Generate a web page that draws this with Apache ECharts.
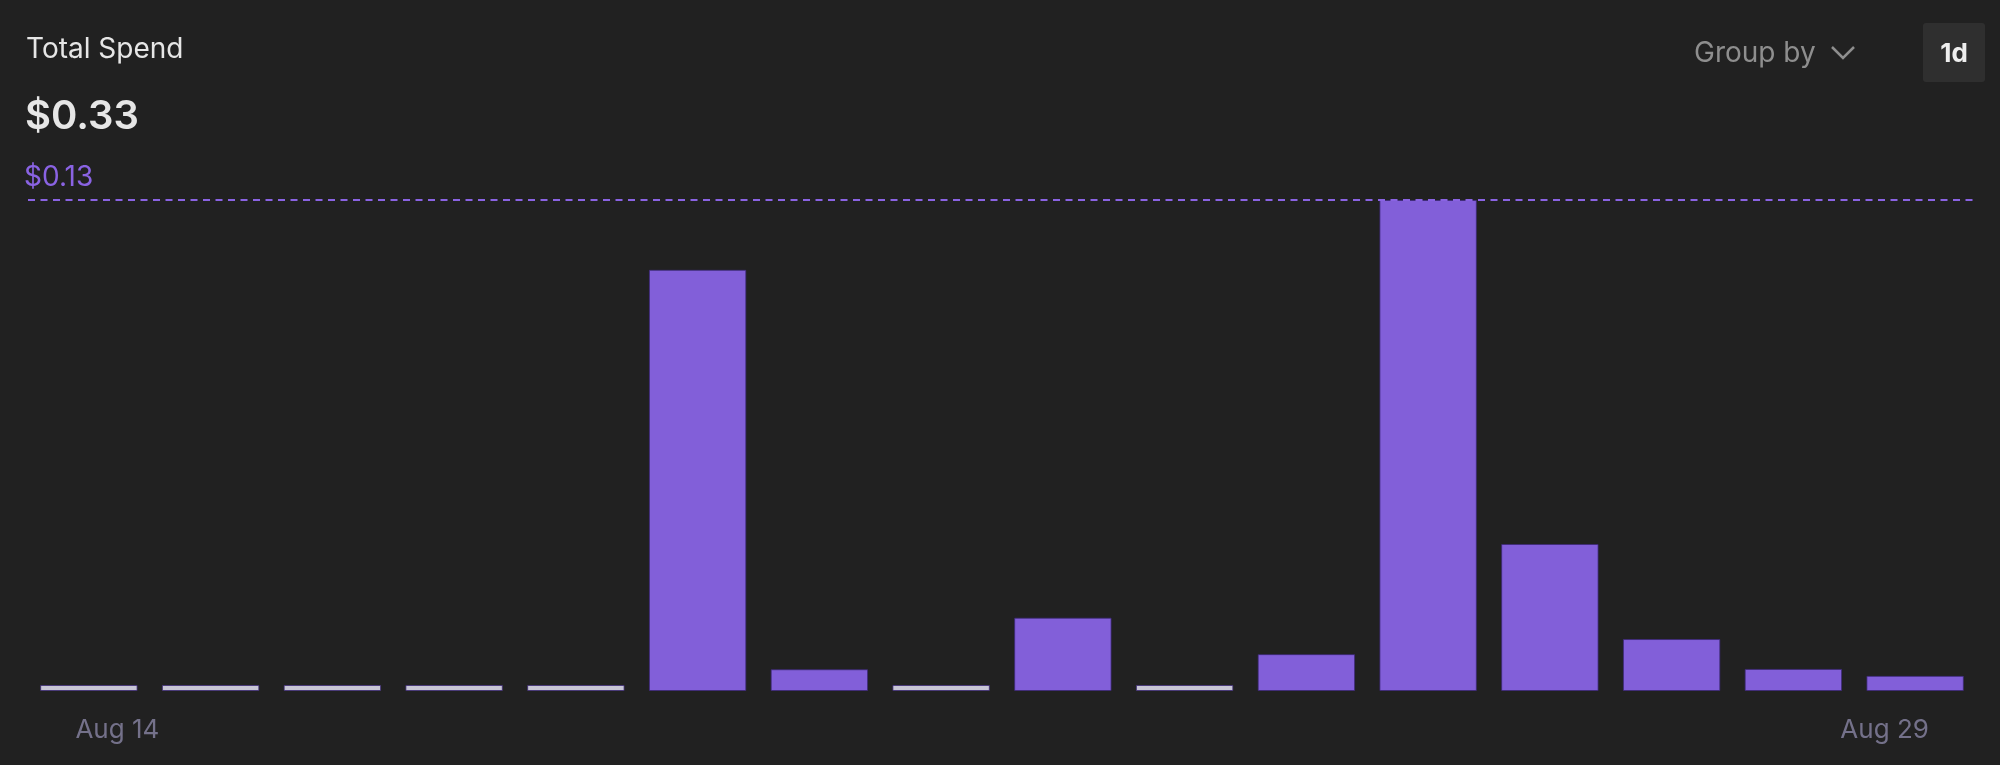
<!DOCTYPE html>
<html>
<head>
<meta charset="utf-8">
<script src="https://cdn.jsdelivr.net/npm/echarts@6/dist/echarts.min.js"></script>
<style>
html,body{margin:0;padding:0;background:#212121;}
#c{width:2000px;height:765px;}
</style>
</head>
<body>
<div id="c"></div>
<script>
const categories = ['Aug 14','Aug 15','Aug 16','Aug 17','Aug 18','Aug 19','Aug 20','Aug 21','Aug 22','Aug 23','Aug 24','Aug 25','Aug 26','Aug 27','Aug 28','Aug 29'];
const spend = [0, 0, 0, 0, 0, 0.1086, 0.0056, 0, 0.0189, 0, 0.0095, 0.1266, 0.0379, 0.0134, 0.0057, 0.0039];
const titleText = 'Total Spend';
const totalText = '$0.33';
const groupByText = 'Group by';
const periodText = '1d';

const PURPLE = '#825fd9';
const LINE_PURPLE = '#8a63e3';
const FONT = 'Inter, "Noto Sans", sans-serif';
const maxSpend = Math.max.apply(null, spend);

const chart = echarts.init(document.getElementById('c'), null, {renderer: 'canvas'});
const lastIdx = categories.length - 1;

chart.setOption({
  backgroundColor: '#212121',
  animation: false,
  grid: {left: 28, right: 24, top: 200, bottom: 74, containLabel: false},
  xAxis: [{
    type: 'category',
    data: categories,
    axisLine: {show: false},
    axisTick: {show: false},
    axisLabel: {
      interval: (i) => i === 0 || i === lastIdx,
      margin: 26,
      fontFamily: FONT,
      fontSize: 26,
      color: '#74718a',
      formatter: (v, i) => i === 0 ? '{l|' + v + '}' : '{r|' + v + '}',
      rich: {
        l: {padding: [0, 0, 0, 57], fontFamily: FONT, fontSize: 26, color: '#74718a'},
        r: {padding: [0, 61, 0, 0], fontFamily: FONT, fontSize: 26, color: '#74718a'}
      }
    }
  }, {
    type: 'value',
    min: 0,
    max: 1,
    show: false
  }],
  yAxis: {
    type: 'value',
    min: 0,
    max: maxSpend,
    show: false,
    splitLine: {show: false}
  },
  series: [{
    type: 'bar',
    data: spend,
    barCategoryGap: '20%',
    barMinHeight: 6,
    itemStyle: {
      color: (p) => p.value === 0 ? '#c8c6d6' : PURPLE,
      borderColor: 'rgba(60,40,120,0.75)',
      borderWidth: 1
    }
  }, {
    type: 'line',
    xAxisIndex: 1,
    clip: false,
    silent: true,
    symbol: 'circle',
    symbolSize: 0,
    showSymbol: true,
    z: 5,
    lineStyle: {color: LINE_PURPLE, width: 2, type: [7, 5.5]},
    itemStyle: {color: LINE_PURPLE},
    data: [
      {value: [0, maxSpend], label: {
        show: true,
        position: [-4, -8],
        align: 'left',
        verticalAlign: 'bottom',
        formatter: (p) => '$' + p.value[1].toFixed(2),
        fontFamily: FONT,
        fontSize: 28,
        color: LINE_PURPLE
      }},
      [1, maxSpend]
    ]
  }],
  graphic: [
    {type: 'text', left: 26, top: 36, style: {text: titleText, fontFamily: FONT, fontSize: 28, fill: '#e6e6e6'}},
    {type: 'text', left: 25, top: 97, style: {text: totalText, fontFamily: FONT, fontSize: 40, fontWeight: 600, fill: '#e6e6e6'}},
    {type: 'text', left: 1694, top: 40, style: {text: groupByText, fontFamily: FONT, fontSize: 28, fill: '#8e8e8e'}},
    {type: 'polyline', shape: {points: [[1832, 47], [1843, 58], [1854, 47]]}, style: {stroke: '#8e8e8e', lineWidth: 2.5, fill: null}},
    {type: 'rect', shape: {x: 1923, y: 23, width: 62, height: 59, r: 3}, style: {fill: '#2f2f2f'}},
    {type: 'text', x: 1954, y: 54, style: {text: periodText, fontFamily: FONT, fontSize: 26, fontWeight: 700, fill: '#eeeeee', align: 'center', verticalAlign: 'middle'}}
  ]
});
</script>
</body>
</html>
